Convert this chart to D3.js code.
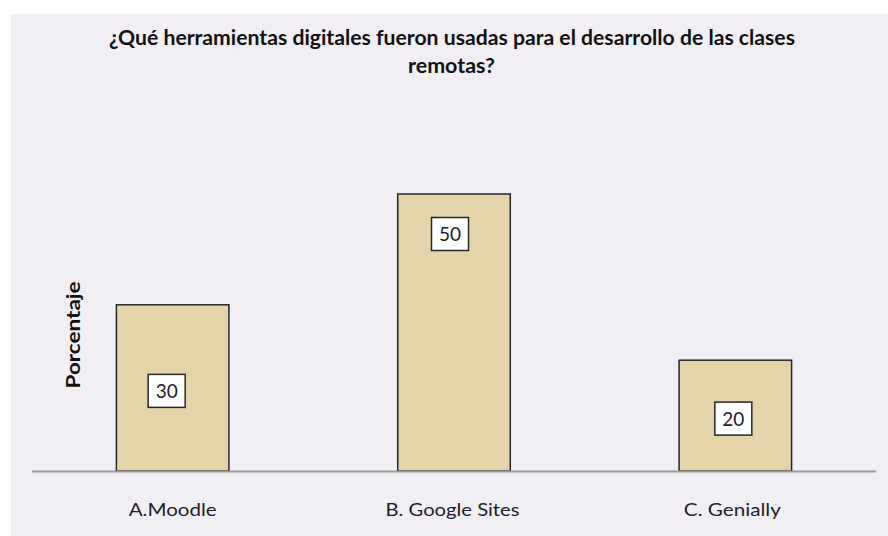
<!DOCTYPE html>
<html>
<head>
<meta charset="utf-8">
<script src="https://cdn.jsdelivr.net/npm/d3@7"></script>
<style>
  body{margin:0;background:#fff;}
  text{font-family:Lato,"Open Sans",sans-serif;}
</style>
</head>
<body>
<script>
var categories=["A.Moodle","B. Google Sites","C. Genially"]
var values=[30,50,20]
var titleLines=["¿Qué herramientas  digitales fueron usadas para  el desarrollo  de las clases","remotas?"]
var yLabel="Porcentaje"

var screen={width:888,height:536}
var margins={top:194,right:12,bottom:65,left:32}
var width=screen.width-margins.left-margins.right
var height=screen.height-margins.top-margins.bottom

var svg=d3.select("body").append("svg")
          .attr("width",screen.width)
          .attr("height",screen.height)

// chart area background
svg.append("rect")
   .attr("x",11).attr("y",14)
   .attr("width",screen.width-11).attr("height",screen.height-14)
   .attr("fill","#f1eff4")

var xScale=d3.scaleBand()
             .domain(categories)
             .range([0,width])
var yScale=d3.scaleLinear()
             .domain([0,d3.max(values)])
             .range([height,0])

var plot=svg.append("g")
            .attr("transform","translate("+margins.left+","+margins.top+")")

var barW=xScale.bandwidth()*0.4
var bars=plot.selectAll(".bar")
             .data(values)
             .enter()
             .append("g")
             .classed("bar",true)
bars.append("rect")
    .attr("x",function(d,i){return xScale(categories[i])+(xScale.bandwidth()-barW)/2})
    .attr("y",function(d){return yScale(d)})
    .attr("width",barW)
    .attr("height",function(d){return height-yScale(d)})
    .attr("fill","#e5d4a9")
    .attr("stroke","#262626")
    .attr("stroke-width",1.5)

// baseline
plot.append("line")
    .attr("x1",0).attr("x2",width)
    .attr("y1",height+0.5).attr("y2",height+0.5)
    .attr("stroke","#9a9a9a")
    .attr("stroke-width",2)

// data labels: largest bar labelled near its top, others at middle
var maxV=d3.max(values)
var labelY=function(d){
  return d===maxV ? yScale(d)+40 : yScale(d/2)+3
}
var labels=bars.append("g")
    .attr("transform",function(d,i){
      var cx=xScale(categories[i])+xScale.bandwidth()/2-6+i*2
      return "translate("+cx+","+labelY(d)+")"})
labels.append("rect")
      .attr("x",-18.5).attr("y",-16.5)
      .attr("width",37).attr("height",33)
      .attr("fill","#fff")
      .attr("stroke","#262626")
      .attr("stroke-width",1.5)
labels.append("text")
      .attr("text-anchor","middle")
      .attr("y",7)
      .attr("font-size",19)
      .attr("fill","#1d1d2b")
      .text(function(d){return d})

// category labels
var catWidths={"A.Moodle":88,"B. Google Sites":134,"C. Genially":97}
plot.selectAll(".cat")
    .data(categories)
    .enter()
    .append("text")
    .classed("cat",true)
    .attr("x",function(d,i){return xScale(d)+xScale.bandwidth()/2-i*1.5})
    .attr("y",height+45)
    .attr("text-anchor","middle")
    .attr("font-size",18)
    .attr("fill","#1d1d2b")
    .attr("textLength",function(d){return catWidths[d]})
    .attr("lengthAdjust","spacingAndGlyphs")
    .text(function(d){return d})

// title
svg.selectAll(".title")
   .data(titleLines)
   .enter()
   .append("text")
   .classed("title",true)
   .attr("x",function(d,i){return i===0?109:408})
   .attr("y",function(d,i){return 44.5+i*28.5})
   .attr("font-size",20)
   .attr("font-weight","bold")
   .attr("fill","#111")
   .attr("textLength",function(d,i){return i===0?686:87})
   .attr("lengthAdjust","spacingAndGlyphs")
   .text(function(d){return d})

// y label
svg.append("text")
   .attr("transform","translate(80,335) rotate(-90)")
   .attr("text-anchor","middle")
   .attr("font-size",19)
   .attr("font-weight","bold")
   .attr("fill","#111")
   .attr("textLength",107)
   .attr("lengthAdjust","spacingAndGlyphs")
   .text(yLabel)
</script>
</body>
</html>
